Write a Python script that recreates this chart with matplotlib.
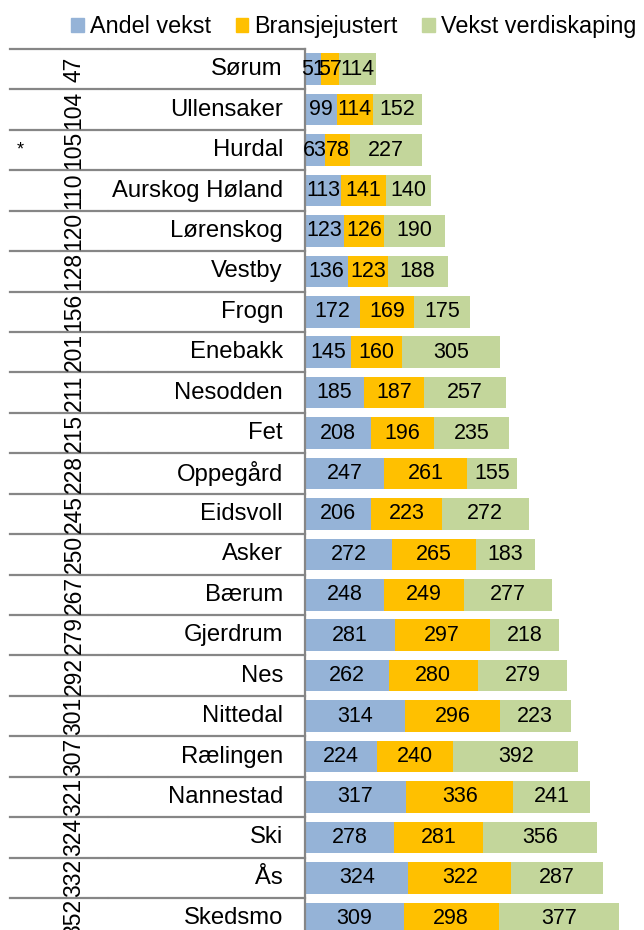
import matplotlib
matplotlib.use("Agg")
import matplotlib.pyplot as plt
import matplotlib.patches as mpatches
import matplotlib.transforms as mtransforms

plt.rcParams["font.family"] = ["Liberation Sans", "DejaVu Sans"]

names = ["Sørum", "Ullensaker", "Hurdal", "Aurskog Høland", "Lørenskog", "Vestby", "Frogn",
         "Enebakk", "Nesodden", "Fet", "Oppegård", "Eidsvoll", "Asker", "Bærum", "Gjerdrum",
         "Nes", "Nittedal", "Rælingen", "Nannestad", "Ski", "Ås", "Skedsmo"]
ranks = ["47", "104", "105", "110", "120", "128", "156", "201", "211", "215", "228", "245",
         "250", "267", "279", "292", "301", "307", "321", "324", "332", "352"]
marks = ["", "", "*", "", "", "", "", "", "", "", "", "", "", "", "", "", "", "", "", "", "", ""]
andelVekst = [51, 99, 63, 113, 123, 136, 172, 145, 185, 208, 247, 206, 272, 248, 281, 262,
              314, 224, 317, 278, 324, 309]
bransjejustert = [57, 114, 78, 141, 126, 123, 169, 160, 187, 196, 261, 223, 265, 249, 297, 280,
                  296, 240, 336, 281, 322, 298]
vekstVerdiskaping = [114, 152, 227, 140, 190, 188, 175, 305, 257, 235, 155, 272, 183, 277, 218,
                     279, 223, 392, 241, 356, 287, 377]
seriesNames = ["Andel vekst", "Bransjejustert", "Vekst verdiskaping"]
colors = ["#95B3D7", "#FFC000", "#C3D69B"]

W, H = 644, 930
figure = plt.figure(figsize=(W / 100, H / 100), dpi=100)
axLeft = 305 / W
axTop = 1 - 49 / H
axBottom = 1 - 938.5 / H
ax = figure.add_axes([axLeft, axBottom, 1 - axLeft, axTop - axBottom])

y = list(range(len(names)))
left = [0] * len(names)
for values, color in zip([andelVekst, bransjejustert, vekstVerdiskaping], colors):
    ax.barh(y, values, left=left, height=0.78, color=color, edgecolor="none")
    for yi, v, l in zip(y, values, left):
        ax.text(l + v / 2, yi, str(v), ha="center", va="center", fontsize=15.5, color="black")
    left = [a + b for a, b in zip(left, values)]

ax.set_xlim(0, 1062)
ax.set_ylim(len(names) - 0.5, -0.5)
ax.set_xticks([])
ax.set_yticks([])
for side in ["top", "right", "bottom"]:
    ax.spines[side].set_visible(False)
ax.spines["left"].set_color("#868686")
ax.spines["left"].set_linewidth(1.6)

# category table on the left
trans = mtransforms.blended_transform_factory(figure.transFigure, ax.transData)
segments = [(10, 59), (61, 107), (109, 305)]
for i in range(len(names) + 1):
    for x0, x1 in segments:
        ax.plot([x0 / W, x1 / W], [i - 0.5, i - 0.5], color="#868686", linewidth=1.6,
                transform=trans, clip_on=False)
for i, (name, rank, mark) in enumerate(zip(names, ranks, marks)):
    ax.text(283 / W, i, name, ha="right", va="center", fontsize=17.2, transform=trans)
    ax.text(74 / W, i, rank, ha="center", va="center", fontsize=16.5, rotation=90,
            transform=trans)
    if mark:
        ax.text(20 / W, i, mark, ha="center", va="center", fontsize=13, transform=trans)

patches = [mpatches.Patch(color=c, label=n) for c, n in zip(colors, seriesNames)]
figure.legend(handles=patches, loc="upper right", bbox_to_anchor=(1.006, 0.996), ncol=3,
              frameon=False, fontsize=16.8, handlelength=0.55, handleheight=0.55,
              handletextpad=0.25, columnspacing=1.05, borderaxespad=0.1)

figure.savefig("out.png", dpi=100)
plt.close()
